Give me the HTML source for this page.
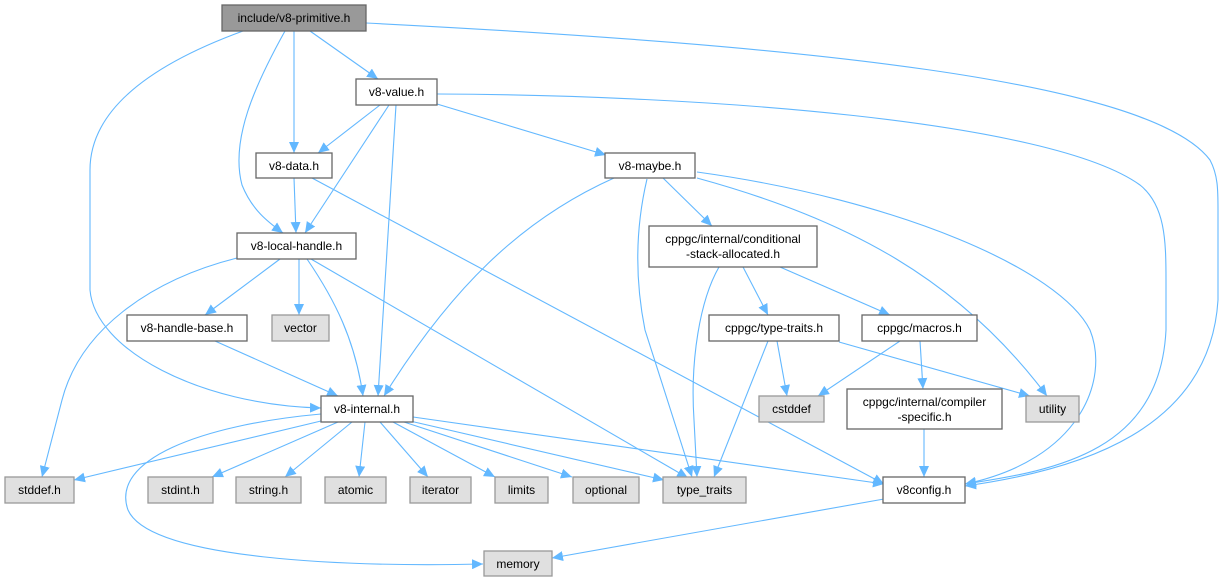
<!DOCTYPE html>
<html><head><meta charset="utf-8"><style>
html,body{margin:0;padding:0;background:#fff;}
svg{display:block;}
text{font-family:"Liberation Sans",sans-serif;font-size:12px;fill:#000;text-anchor:middle;}
.n{fill:#fff;stroke:#666;stroke-width:1.3;}
.g{fill:#e0e0e0;stroke:#999;stroke-width:1.3;}
.e{fill:none;stroke:#63b8ff;stroke-width:1.1;marker-end:url(#a);}
</style></head><body>
<svg width="1224" height="582" viewBox="0 0 1224 582" xmlns="http://www.w3.org/2000/svg">
<defs><marker id="a" markerUnits="userSpaceOnUse" markerWidth="12" markerHeight="10" refX="11" refY="5" orient="auto"><path d="M0,0 L11,5 L0,10 z" fill="#63b8ff"/></marker></defs>
<g>
<path class="e" d="M310,31 L378,79"/>
<path class="e" d="M294,31 L294,153"/>
<path class="e" d="M285,31 C255,85 230,140 242,185 C252,210 268,222 283,233"/>
<path class="e" d="M243,31 C150,65 90,110 90,170 L90,290 C95,350 200,405 321,408"/>
<path class="e" d="M366,23 C800,45 1150,80 1210,160 C1218,175 1218,190 1218,210 L1218,300 C1210,430 1080,470 965,486"/>
<path class="e" d="M380,105 L318,153"/>
<path class="e" d="M389,105 L305,233"/>
<path class="e" d="M396,105 L378,396"/>
<path class="e" d="M437,104 L606,155"/>
<path class="e" d="M437,94 C700,95 1050,120 1140,185 C1165,205 1166,240 1166,280 L1166,330 C1160,450 1060,470 965,484"/>
<path class="e" d="M294,178 L296,233"/>
<path class="e" d="M312,178 L884,484"/>
<path class="e" d="M237,258 C150,280 80,330 62,400 L42,477"/>
<path class="e" d="M280,259 L205,315"/>
<path class="e" d="M299,259 L299,315"/>
<path class="e" d="M307,259 C335,300 355,340 363,396"/>
<path class="e" d="M311,259 L688,478"/>
<path class="e" d="M215,341 L338,396"/>
<path class="e" d="M614,178 C520,220 450,290 384,396"/>
<path class="e" d="M647,179 C635,230 635,280 645,330 L692,477"/>
<path class="e" d="M663,178 L712,226"/>
<path class="e" d="M697,178 C850,220 960,280 1047,396"/>
<path class="e" d="M697,172 C900,200 1060,270 1090,330 C1110,380 1080,460 965,484"/>
<path class="e" d="M719,267 C700,300 690,360 694,420 L697,477"/>
<path class="e" d="M743,267 L768,315"/>
<path class="e" d="M780,267 L890,315"/>
<path class="e" d="M777,341 L787,396"/>
<path class="e" d="M768,341 L714,477"/>
<path class="e" d="M839,342 L1030,396"/>
<path class="e" d="M900,341 L818,396"/>
<path class="e" d="M920,341 L923,389"/>
<path class="e" d="M924,429 L924,477"/>
<path class="e" d="M884,499 L552,558"/>
<path class="e" d="M321,421 L74,480"/>
<path class="e" d="M338,422 L212,477"/>
<path class="e" d="M352,422 L285,477"/>
<path class="e" d="M365,422 L359,477"/>
<path class="e" d="M380,422 L428,477"/>
<path class="e" d="M393,422 L495,477"/>
<path class="e" d="M404,422 L572,477"/>
<path class="e" d="M410,421 L664,480"/>
<path class="e" d="M413,417 L884,484"/>
<path class="e" d="M321,414 C200,425 110,460 128,510 C150,560 350,567 483,564"/>
</g>
<rect x="222" y="5" width="144" height="26" fill="#999" stroke="#666" stroke-width="1.3"/><text x="294" y="22">include/v8-primitive.h</text>
<rect class="n" x="356" y="79" width="81" height="26"/><text x="396.5" y="96">v8-value.h</text>
<rect class="n" x="256" y="153" width="76" height="25"/><text x="294" y="170">v8-data.h</text>
<rect class="n" x="605" y="153" width="90" height="25"/><text x="650" y="170">v8-maybe.h</text>
<rect class="n" x="237" y="233" width="119" height="26"/><text x="296.5" y="250">v8-local-handle.h</text>
<rect class="n" x="649" y="226" width="168" height="41"/><text x="733" y="243">cppgc/internal/conditional</text><text x="733" y="258">-stack-allocated.h</text>
<rect class="n" x="127" y="315" width="120" height="26"/><text x="187" y="332">v8-handle-base.h</text>
<rect class="g" x="272" y="315" width="57" height="26"/><text x="300.5" y="332">vector</text>
<rect class="n" x="709" y="315" width="130" height="26"/><text x="774" y="332">cppgc/type-traits.h</text>
<rect class="n" x="862" y="315" width="115" height="26"/><text x="919.5" y="332">cppgc/macros.h</text>
<rect class="n" x="321" y="396" width="92" height="26"/><text x="367" y="413">v8-internal.h</text>
<rect class="g" x="759" y="396" width="65" height="26"/><text x="791.5" y="413">cstddef</text>
<rect class="n" x="847" y="389" width="155" height="40"/><text x="924.5" y="406">cppgc/internal/compiler</text><text x="924.5" y="421">-specific.h</text>
<rect class="g" x="1026" y="396" width="53" height="26"/><text x="1052.5" y="413">utility</text>
<rect class="g" x="5" y="477" width="69" height="26"/><text x="39.5" y="494">stddef.h</text>
<rect class="g" x="148" y="477" width="65" height="26"/><text x="180.5" y="494">stdint.h</text>
<rect class="g" x="236" y="477" width="65" height="26"/><text x="268.5" y="494">string.h</text>
<rect class="g" x="325" y="477" width="61" height="26"/><text x="355.5" y="494">atomic</text>
<rect class="g" x="410" y="477" width="61" height="26"/><text x="440.5" y="494">iterator</text>
<rect class="g" x="495" y="477" width="53" height="26"/><text x="521.5" y="494">limits</text>
<rect class="g" x="573" y="477" width="66" height="26"/><text x="606" y="494">optional</text>
<rect class="g" x="663" y="477" width="83" height="26"/><text x="704.5" y="494">type_traits</text>
<rect class="n" x="883" y="477" width="82" height="26"/><text x="924" y="494">v8config.h</text>
<rect class="g" x="484" y="551" width="68" height="25"/><text x="518" y="568">memory</text>
</svg>
</body></html>
